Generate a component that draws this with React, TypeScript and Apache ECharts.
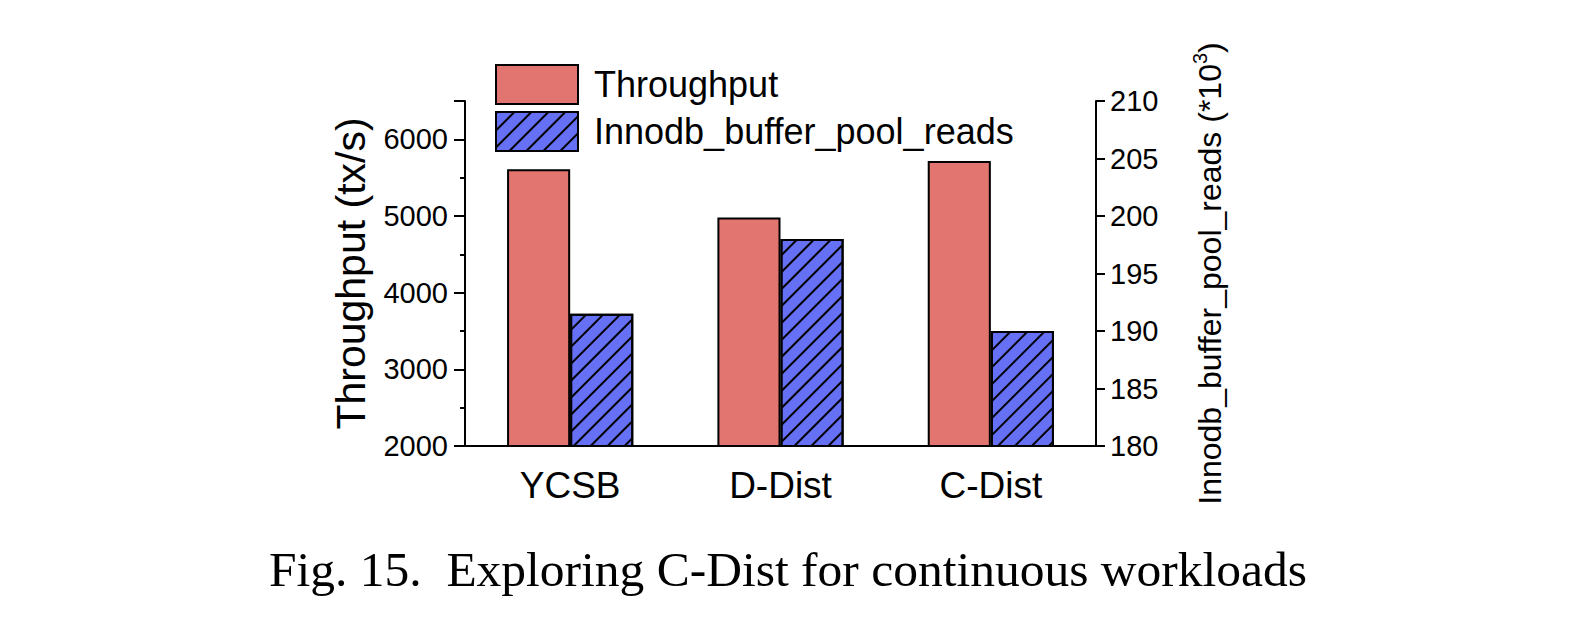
import React, { useEffect, useRef } from 'react';
import * as echarts from 'echarts';

const categories = ['YCSB', 'D-Dist', 'C-Dist'];
const throughput = [5609, 4980, 5717];
const bufferPoolReads = [191.5, 198.0, 190.0];
const seriesNames = ['Throughput', 'Innodb_buffer_pool_reads'];
const leftAxisTitle = 'Throughput (tx/s)';
const rightAxisTitle = '{a|Innodb_buffer_pool_reads (*10}{s|3}{a|)}';
const caption = 'Fig. 15.\u00a0\u00a0Exploring C-Dist for continuous workloads';

const SANS = "'Liberation Sans', Arial, sans-serif";
const SERIF = "'Liberation Serif', 'Times New Roman', serif";

export default function App() {
  const ref = useRef<HTMLDivElement>(null);
  useEffect(() => {
    document.body.style.margin = '0';
    const chart = echarts.init(ref.current!, null, { renderer: 'svg' });
    const line = { color: '#000', width: 2 };
    chart.setOption({
      animation: false,
      backgroundColor: '#fff',
      title: {
        text: caption,
        left: 'center',
        top: 539,
        textStyle: { fontFamily: SERIF, fontSize: 49.5, fontWeight: 'normal', color: '#000' },
      },
      legend: {
        orient: 'vertical',
        left: 495,
        top: 64,
        padding: 0,
        icon: 'rect',
        itemWidth: 82,
        itemHeight: 39,
        itemGap: 6,
        data: seriesNames,
        textStyle: { fontFamily: SANS, fontSize: 36, color: '#000', padding: [0, 0, 0, 11] },
      },
      grid: { left: 465, right: 480, top: 101, bottom: 179 },
      xAxis: [
        {
          type: 'category',
          data: categories,
          axisLine: { lineStyle: line },
          axisTick: { alignWithLabel: true, length: 11, lineStyle: line },
          axisLabel: { fontFamily: SANS, fontSize: 37, color: '#000', margin: 21 },
        },
        {
          type: 'category',
          data: categories,
          position: 'bottom',
          axisLine: { show: false },
          axisTick: { length: 6, lineStyle: line },
          axisLabel: { show: false },
        },
      ],
      yAxis: [
        {
          type: 'value',
          position: 'left',
          min: 2000,
          max: 6500,
          interval: 500,
          axisLine: { show: true, lineStyle: line },
          axisTick: { show: true, length: 5, lineStyle: line },
          axisLabel: {
            fontFamily: SANS,
            fontSize: 29,
            color: '#000',
            margin: 17,
            formatter: (v: number) => (v % 1000 === 0 ? String(v) : ''),
          },
          splitLine: { show: false },
          name: leftAxisTitle,
          nameLocation: 'middle',
          nameRotate: 90,
          nameGap: 94,
          nameTextStyle: { fontFamily: SANS, fontSize: 41, color: '#000' },
        },
        {
          type: 'value',
          position: 'left',
          min: 2000,
          max: 6500,
          interval: 1000,
          axisLine: { show: false },
          axisTick: { show: true, length: 11, lineStyle: line },
          axisLabel: { show: false },
          splitLine: { show: false },
        },
        {
          type: 'value',
          position: 'right',
          min: 180,
          max: 210,
          interval: 5,
          axisLine: { show: true, lineStyle: line },
          axisTick: { show: true, length: 9, lineStyle: line },
          axisLabel: { fontFamily: SANS, fontSize: 29, color: '#000', margin: 14 },
          splitLine: { show: false },
          name: rightAxisTitle,
          nameLocation: 'middle',
          nameRotate: 90,
          nameGap: 94,
          nameTextStyle: {
            fontFamily: SANS,
            color: '#000',
            rich: {
              a: { fontFamily: SANS, fontSize: 32, color: '#000' },
              s: { fontFamily: SANS, fontSize: 20, color: '#000', padding: [0, 0, 19, 0] },
            },
          },
        },
      ],
      series: [
        {
          name: seriesNames[0],
          type: 'bar',
          xAxisIndex: 0,
          yAxisIndex: 0,
          data: throughput,
          barCategoryGap: '40%',
          barGap: '0%',
          itemStyle: { color: '#E37571', borderColor: '#000', borderWidth: 2 },
        },
        {
          name: seriesNames[1],
          type: 'bar',
          xAxisIndex: 0,
          yAxisIndex: 2,
          data: bufferPoolReads,
          barCategoryGap: '40%',
          barGap: '0%',
          itemStyle: {
            color: '#6670F5',
            borderColor: '#000',
            borderWidth: 2,
            decal: {
              symbol: 'rect',
              symbolSize: 1,
              color: '#000',
              dashArrayX: [1, 0],
              dashArrayY: [1.4, 9.2],
              rotation: -Math.PI / 4,
            },
          },
        },
      ],
    });
    return () => chart.dispose();
  }, []);
  return <div ref={ref} style={{ width: 1576, height: 625 }} />;
}
